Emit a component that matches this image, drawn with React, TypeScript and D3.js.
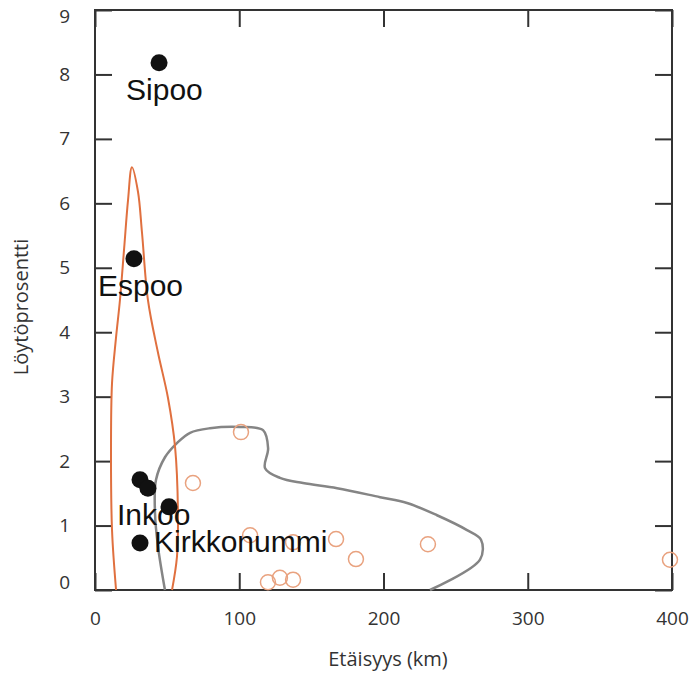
import React, { useEffect, useRef } from 'react';
import * as d3 from 'd3';

// named sites (black dots)
const siteNames = ['Sipoo', 'Espoo', '', '', 'Inkoo', 'Kirkkonummi'];
const siteDist = [44.4, 27.0, 31.2, 36.7, 51.3, 31.2];
const sitePct = [8.18, 5.14, 1.71, 1.58, 1.29, 0.73];

// other sites (open orange circles)
const otherDist = [101.2, 67.9, 107.5, 137.3, 167.1, 180.9, 230.8, 398.6, 119.9, 128.2, 137.3];
const otherPct = [2.45, 1.66, 0.85, 0.74, 0.79, 0.48, 0.71, 0.47, 0.12, 0.19, 0.16];

// outline around the named sites
const redDist = [14.6, 11.8, 11.1, 11.8, 14.5, 17.3, 20.2, 22.9, 25.6, 29.8, 32.6, 36.7, 43.5, 50.6, 55.5, 57.5, 56.8, 53.4];
const redPct = [0, 0.93, 2.22, 3.21, 3.9, 4.5, 5.3, 6.05, 6.56, 6.18, 5.54, 4.5, 3.7, 2.98, 2.22, 1.19, 0.51, 0];

// outline around the other sites
const greyDist = [48.5, 43.7, 41.6, 42.3, 48.5, 56.8, 65.9, 79.7, 100.5, 116.5, 120, 117.9, 128.2, 144.2, 167.8, 197.6, 216.3, 237.1, 257.9, 267.6, 266.9, 232.2];
const greyPct = [0, 0.67, 1.19, 1.71, 2.06, 2.28, 2.44, 2.51, 2.53, 2.48, 2.2, 1.89, 1.74, 1.66, 1.58, 1.44, 1.35, 1.16, 0.93, 0.78, 0.47, 0];

const xTicks = [0, 100, 200, 300, 400];
const yTicks = [0, 1, 2, 3, 4, 5, 6, 7, 8, 9];

// label placement relative to its dot
const labelDx = [-33, -36, 0, 0, -52, 14];
const labelDy = [37, 37, 0, 0, 18, 9];

const App = () => {
  const ref = useRef<SVGSVGElement>(null);

  useEffect(() => {
    const width = 690;
    const height = 674;
    const margin = { top: 10, right: 18, bottom: 84, left: 95 };
    const w = width - margin.left - margin.right;
    const h = height - margin.top - margin.bottom;

    const root = d3.select(ref.current);
    root.selectAll('*').remove();

    const svg = root.append('g').attr('transform', `translate(${margin.left}, ${margin.top})`);

    const x = d3.scaleLinear().domain([0, 400]).range([0, w]);
    const y = d3.scaleLinear().domain([0, 9]).range([h, 0]);

    const tickFont = '"Open Sans", "DejaVu Sans", sans-serif';

    const styleAxis = (g: any) => {
      g.select('.domain').remove();
      g.selectAll('.tick line').attr('stroke', '#333').attr('stroke-width', 2);
      g.selectAll('.tick text').attr('fill', '#333').style('font-size', '19px').style('font-family', tickFont);
    };

    svg
      .append('g')
      .attr('transform', `translate(0, ${h})`)
      .call(d3.axisBottom(x).tickValues(xTicks).tickSize(-17).tickPadding(22).tickFormat(d3.format('d')))
      .call(styleAxis);

    svg
      .append('g')
      .call(d3.axisTop(x).tickValues(xTicks).tickSize(-17).tickFormat(() => ''))
      .call(styleAxis);

    const yAxis = svg
      .append('g')
      .call(d3.axisLeft(y).tickValues(yTicks).tickSize(-17).tickPadding(25).tickFormat(d3.format('d')))
      .call(styleAxis);

    // end labels are pulled inside the frame
    yAxis
      .selectAll('.tick text')
      .attr('transform', (d: any) => (d === 9 ? 'translate(0, 6)' : d === 0 ? 'translate(0, -8)' : null));

    svg
      .append('g')
      .attr('transform', `translate(${w}, 0)`)
      .call(d3.axisRight(y).tickValues(yTicks).tickSize(-17).tickFormat(() => ''))
      .call(styleAxis);

    svg
      .append('rect')
      .attr('width', w)
      .attr('height', h)
      .attr('fill', 'none')
      .attr('stroke', '#333')
      .attr('stroke-width', 2);

    svg
      .append('text')
      .attr('x', 293)
      .attr('y', h + 76)
      .attr('text-anchor', 'middle')
      .attr('fill', '#333')
      .style('font-size', '20px')
      .style('font-family', tickFont)
      .text('Etäisyys (km)');

    svg
      .append('text')
      .attr('transform', 'rotate(-90)')
      .attr('x', -297)
      .attr('y', -67)
      .attr('text-anchor', 'middle')
      .attr('fill', '#333')
      .style('font-size', '20px')
      .style('font-family', tickFont)
      .text('Löytöprosentti');

    const outline = (xs: number[], ys: number[]) =>
      d3
        .line<number>()
        .x((d) => x(d))
        .y((_, i) => y(ys[i]))
        .curve(d3.curveCatmullRom.alpha(0.5))(xs);

    svg
      .append('path')
      .attr('d', outline(greyDist, greyPct))
      .attr('fill', 'none')
      .attr('stroke', '#858585')
      .attr('stroke-width', 2.5)
      .attr('stroke-linejoin', 'round');

    svg
      .append('path')
      .attr('d', outline(redDist, redPct))
      .attr('fill', 'none')
      .attr('stroke', '#e0703f')
      .attr('stroke-width', 2)
      .attr('stroke-linejoin', 'round');

    svg
      .append('g')
      .selectAll('circle')
      .data(otherDist)
      .enter()
      .append('circle')
      .attr('cx', (d) => x(d))
      .attr('cy', (_, i) => y(otherPct[i]))
      .attr('r', 7.5)
      .attr('fill', 'none')
      .attr('stroke', '#e9a27f')
      .attr('stroke-width', 1.5);

    svg
      .append('g')
      .selectAll('circle')
      .data(siteDist)
      .enter()
      .append('circle')
      .attr('cx', (d) => x(d))
      .attr('cy', (_, i) => y(sitePct[i]))
      .attr('r', 8.5)
      .attr('fill', '#111');

    svg
      .append('g')
      .selectAll('text')
      .data(siteNames)
      .enter()
      .append('text')
      .attr('x', (_, i) => x(siteDist[i]) + labelDx[i])
      .attr('y', (_, i) => y(sitePct[i]) + labelDy[i])
      .attr('fill', '#111')
      .style('font-size', '30px')
      .style('font-family', '"Liberation Sans", Arial, sans-serif')
      .text((d) => d);
  }, []);

  return (
    <svg
      ref={ref}
      width={690}
      height={674}
      style={{ position: 'absolute', left: 0, top: 0, background: '#fff' }}
    />
  );
};

export default App;
